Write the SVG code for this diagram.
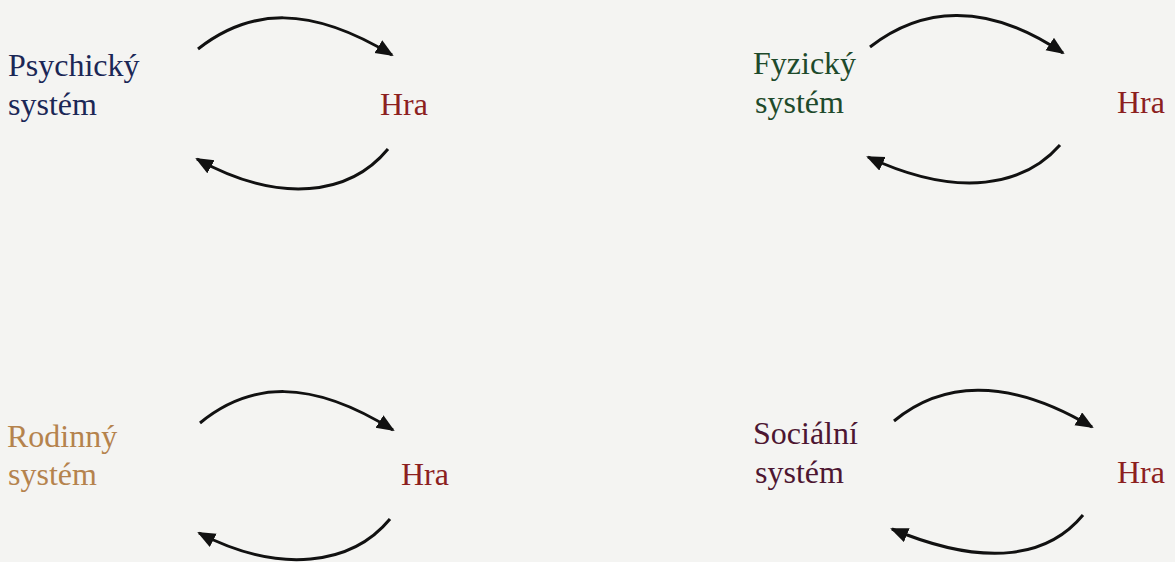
<svg xmlns="http://www.w3.org/2000/svg" width="1175" height="562" viewBox="0 0 1175 562">
<defs>
<marker id="ah" markerWidth="20" markerHeight="16" refX="16" refY="7.5" orient="auto" markerUnits="userSpaceOnUse">
<path d="M0,0 L18,7.5 L0,15 z" fill="#111"/>
</marker>
<style>
text{font-family:"Liberation Serif","Times New Roman",serif;font-size:32px}
.hra{fill:#8c1f1f}
.psy{fill:#1b2756}
.fyz{fill:#1e4a2b}
.rod{fill:#b5834d}
.soc{fill:#4d1631}
.arr{fill:none;stroke:#111;stroke-width:3;marker-end:url(#ah)}
</style>
</defs>
<rect width="1175" height="562" fill="#f4f4f2"/>
<g id="psychicky"><text class="psy" x="8" y="76">Psychický</text><text class="psy" x="8" y="115">systém</text></g>
<g id="hra1"><text class="hra" x="380" y="115">Hra</text></g>
<g id="fyzicky"><text class="fyz" x="753" y="74">Fyzický</text><text class="fyz" x="755" y="113">systém</text></g>
<g id="hra2"><text class="hra" x="1117" y="113">Hra</text></g>
<g id="rodinny"><text class="rod" x="7" y="447">Rodinný</text><text class="rod" x="8" y="485">systém</text></g>
<g id="hra3"><text class="hra" x="401" y="485">Hra</text></g>
<g id="socialni"><text class="soc" x="753" y="444">Sociální</text><text class="soc" x="755" y="483">systém</text></g>
<g id="hra4"><text class="hra" x="1117" y="483">Hra</text></g>
<g id="connectors">
<path class="arr" d="M198,49 C250,8 310,5 392,55"/>
<path class="arr" d="M388,149 C350,195 280,205 197,159"/>
<path class="arr" d="M870,47 C920,8 985,0 1063,53"/>
<path class="arr" d="M1060,145 C1025,185 960,200 868,157"/>
<path class="arr" d="M200,423 C250,382 310,378 393,430"/>
<path class="arr" d="M390,519 C352,565 280,575 199,533"/>
<path class="arr" d="M894,421 C940,383 1005,375 1092,427"/>
<path class="arr" d="M1083,515 C1050,555 990,570 892,529"/>
</g>
</svg>
